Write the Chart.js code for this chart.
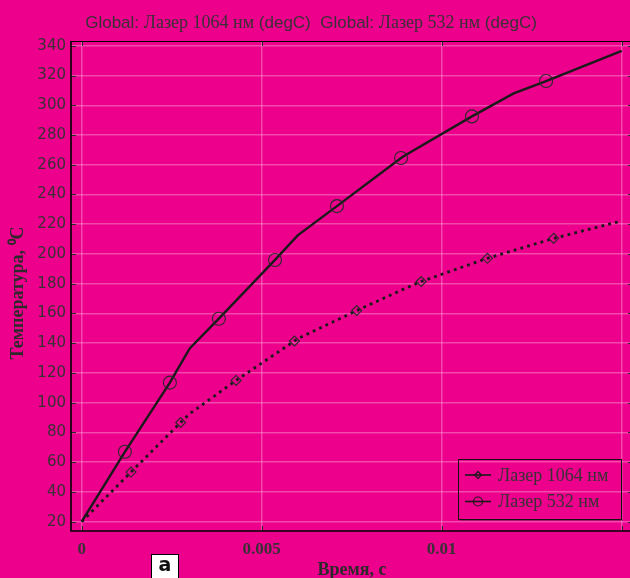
<!DOCTYPE html>
<html>
<head>
<meta charset="utf-8">
<script src="https://cdn.jsdelivr.net/npm/chart.js@4.4.1/dist/chart.umd.min.js"></script>
<style>
  html, body { margin: 0; padding: 0; background: #ec008c; overflow: hidden; width: 630px; height: 578px; }
  #wrap { position: relative; width: 645px; height: 578px; }
  canvas { display: block; }
</style>
</head>
<body>
<div id="wrap"><canvas id="c" width="645" height="578"></canvas></div>
<script>
// Laser 1064 nm: temperature (degC) at solver time steps, and at the marker positions
const time1064 = [0, 0.003, 0.006, 0.009, 0.012, 0.015];
const temp1064 = [20, 92.6, 143, 177, 202.4, 222.2];
const markTime1064 = [0.00137, 0.00275, 0.00429, 0.00591, 0.00764, 0.00943, 0.01127, 0.01311];
const markTemp1064 = [53.4, 86.7, 115, 141.5, 162, 181.5, 197.1, 210.5];

// Laser 532 nm
const time532 = [0, 0.003, 0.006, 0.009, 0.012, 0.015];
const temp532 = [20, 136.5, 212.5, 266.5, 308, 336.5];
const markTime532 = [0.00120, 0.00245, 0.00381, 0.00537, 0.00709, 0.00887, 0.01084, 0.01290];
const markTemp532 = [67, 113.5, 156.5, 196, 232.2, 264.5, 292.5, 316.3];

const seriesNames = ['Лазер 1064 нм', 'Лазер 532 нм'];
const xTicks = [0, 0.005, 0.01, 0.015];
const xTickLabels = ['0', '0.005', '0.01', ''];
const yTicks = [20, 40, 60, 80, 100, 120, 140, 160, 180, 200, 220, 240, 260, 280, 300, 320, 340];
const yTitle = 'Температура, ⁰C';

const INK = '#1a1a1a';
const TEXT = '#3a3036';
const GRID = 'rgba(255, 190, 225, 0.38)';

// merge line vertices and marker samples into one ordered series
function buildSeries(tv, yv, tm, ym) {
  const pts = tv.map((t, i) => ({ x: t, y: yv[i], m: false }))
    .concat(tm.map((t, i) => ({ x: t, y: ym[i], m: true })));
  pts.sort((a, b) => a.x - b.x);
  return pts;
}

function drawMarker(ctx, style, x, y, r) {
  ctx.beginPath();
  if (style === 'circle') {
    ctx.arc(x, y, r, 0, Math.PI * 2);
  } else {
    ctx.moveTo(x, y - r); ctx.lineTo(x + r, y); ctx.lineTo(x, y + r); ctx.lineTo(x - r, y); ctx.closePath();
  }
  ctx.stroke();
}

const framePlugin = {
  id: 'frame',
  afterDraw(chart) {
    const { ctx, chartArea: a, scales } = chart;
    ctx.save();
    // header
    const segs = [
      ['Global: ', '17px "Liberation Sans", sans-serif'],
      ['Лазер 1064 нм', '18px "Liberation Serif", serif'],
      [' (degC)  Global: ', '17px "Liberation Sans", sans-serif'],
      ['Лазер 532 нм', '18px "Liberation Serif", serif'],
      [' (degC)', '17px "Liberation Sans", sans-serif']
    ];
    let total = 0;
    segs.forEach(s => { ctx.font = s[1]; total += ctx.measureText(s[0]).width; });
    let tx = 311 - total / 2;
    ctx.fillStyle = TEXT;
    ctx.textBaseline = 'alphabetic';
    ctx.textAlign = 'left';
    segs.forEach(s => { ctx.font = s[1]; ctx.fillText(s[0], tx, 28); tx += ctx.measureText(s[0]).width; });

    // vertical axis title
    ctx.save();
    ctx.translate(18, 293);
    ctx.rotate(-Math.PI / 2);
    ctx.fillStyle = '#2e2a2c';
    ctx.font = 'bold 18px "Liberation Serif", serif';
    ctx.textAlign = 'center';
    ctx.textBaseline = 'middle';
    ctx.fillText(yTitle, 0, 0);
    ctx.restore();

    // inner tick marks
    ctx.strokeStyle = '#2a2a2a';
    ctx.lineWidth = 1;
    yTicks.forEach(v => {
      const py = Math.round(scales.y.getPixelForValue(v)) + 0.5;
      ctx.beginPath();
      ctx.moveTo(a.left, py); ctx.lineTo(a.left + 5, py);
      ctx.moveTo(a.right - 5, py); ctx.lineTo(a.right, py);
      ctx.stroke();
    });
    xTicks.forEach(v => {
      const px = Math.round(scales.x.getPixelForValue(v)) + 0.5;
      ctx.beginPath();
      ctx.moveTo(px, a.bottom); ctx.lineTo(px, a.bottom - 5);
      ctx.moveTo(px, a.top); ctx.lineTo(px, a.top + 5);
      ctx.stroke();
    });

    // frame
    ctx.strokeStyle = '#000';
    ctx.lineWidth = 1;
    ctx.beginPath();
    ctx.moveTo(a.left, a.top + 0.5); ctx.lineTo(a.right, a.top + 0.5);
    ctx.stroke();
    ctx.lineWidth = 1.6;
    ctx.beginPath();
    ctx.moveTo(a.left, a.top); ctx.lineTo(a.left, a.bottom); ctx.lineTo(a.right, a.bottom);
    ctx.stroke();

    // legend box
    const lx = 458, ly = 459, lw = 163, lh = 60;
    ctx.fillStyle = 'rgba(90, 40, 70, 0.45)';
    ctx.fillRect(lx + 2, ly + lh, lw, 2);
    ctx.strokeStyle = '#111';
    ctx.lineWidth = 1;
    ctx.strokeRect(lx + 0.5, ly + 0.5, lw, lh);
    const rows = [ly + 16, ly + 42.5];
    chart.data.datasets.forEach((ds, i) => {
      const ry = rows[i];
      ctx.strokeStyle = INK;
      ctx.lineWidth = 1.6;
      ctx.setLineDash([]);
      ctx.beginPath(); ctx.moveTo(465, ry); ctx.lineTo(491, ry); ctx.stroke();
      ctx.lineWidth = 1.2;
      drawMarker(ctx, ds.pointStyle, 478, ry, ds.pointStyle === 'circle' ? 4.5 : 3.5);
      ctx.fillStyle = TEXT;
      ctx.font = '18px "Liberation Serif", serif';
      ctx.textBaseline = 'middle';
      ctx.fillText(ds.label, 498, ry + 1);
    });

    // panel tag
    ctx.fillStyle = '#fff';
    ctx.fillRect(151, 554, 28, 26);
    ctx.strokeStyle = '#000';
    ctx.lineWidth = 1;
    ctx.strokeRect(151.5, 554.5, 27, 26);
    ctx.fillStyle = '#111';
    ctx.font = 'bold 19px "DejaVu Sans", sans-serif';
    ctx.textAlign = 'center';
    ctx.textBaseline = 'middle';
    ctx.fillText('a', 165, 566);
    ctx.restore();
  }
};

new Chart(document.getElementById('c'), {
  type: 'line',
  data: {
    datasets: [
      {
        label: seriesNames[0],
        data: buildSeries(time1064, temp1064, markTime1064, markTemp1064),
        borderColor: INK,
        backgroundColor: 'transparent',
        borderWidth: 2.8,
        borderDash: [2.8, 4.2],
        borderCapStyle: 'butt',
        tension: 0,
        pointStyle: 'rectRot',
        pointRadius: c => (c.raw && c.raw.m ? 5 : 0),
        pointHoverRadius: c => (c.raw && c.raw.m ? 5 : 0),
        pointBorderWidth: 1.1,
        pointBorderColor: '#2a2a2a',
        pointBackgroundColor: 'transparent'
      },
      {
        label: seriesNames[1],
        data: buildSeries(time532, temp532, markTime532, markTemp532),
        borderColor: INK,
        backgroundColor: 'transparent',
        borderWidth: 2.4,
        tension: 0,
        pointStyle: 'circle',
        pointRadius: c => (c.raw && c.raw.m ? 6.5 : 0),
        pointHoverRadius: c => (c.raw && c.raw.m ? 6.5 : 0),
        pointBorderWidth: 1.1,
        pointBorderColor: '#2a2a2a',
        pointBackgroundColor: 'transparent'
      }
    ]
  },
  options: {
    responsive: false,
    animation: false,
    devicePixelRatio: 1,
    layout: { padding: { top: 41, right: 12, left: 0, bottom: 0 } },
    plugins: {
      legend: { display: false },
      title: { display: false },
      tooltip: { enabled: false }
    },
    scales: {
      x: {
        type: 'linear',
        min: -0.000297,
        max: 0.015314,
        afterBuildTicks: s => { s.ticks = xTicks.map(v => ({ value: v })); },
        afterFit: s => { s.height = 47; },
        grid: { color: GRID, lineWidth: 1.5, drawTicks: false },
        border: { display: false },
        ticks: {
          autoSkip: false,
          maxRotation: 0,
          padding: 8,
          color: TEXT,
          font: { family: '"Liberation Serif", serif', size: 17, weight: 'bold' },
          callback: (v, i) => xTickLabels[i]
        },
        title: {
          display: true,
          text: 'Время, с',
          color: '#2e2a2c',
          font: { family: '"Liberation Serif", serif', size: 18, weight: 'bold' },
          padding: { top: 0, bottom: -3 }
        }
      },
      y: {
        type: 'linear',
        min: 13.75,
        max: 343.2,
        afterBuildTicks: s => { s.ticks = yTicks.map(v => ({ value: v })); },
        afterFit: s => { s.width = 71; },
        grid: { color: GRID, lineWidth: 1.5, drawTicks: false },
        border: { display: false },
        ticks: {
          autoSkip: false,
          padding: 5,
          color: TEXT,
          font: { family: '"DejaVu Sans", sans-serif', size: 15 },
          callback: v => String(v)
        },
        title: { display: false }
      }
    }
  },
  plugins: [framePlugin]
});
</script>
</body>
</html>
